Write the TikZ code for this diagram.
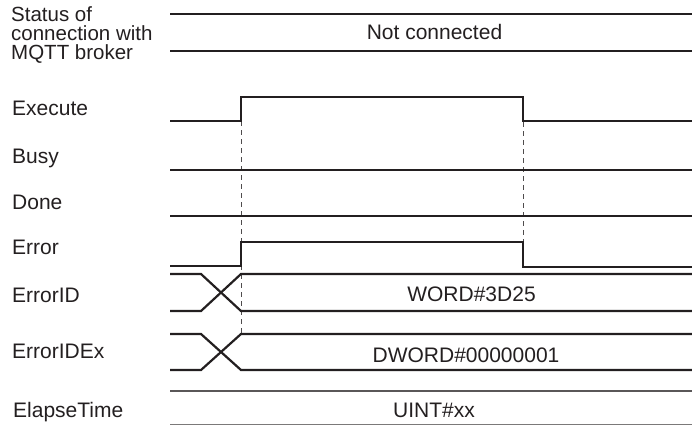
\documentclass[tikz,border=0pt]{standalone}
\usepackage{fontspec}
\setmainfont{Liberation Sans}
\usepackage{xcolor}
\definecolor{ink}{HTML}{231F20}
\tikzstyle{wave} = [line width=2.2pt, draw=ink]
\tikzstyle{guide} = [line width=0.8pt, draw=ink!80, dashed, dash pattern=on 5pt off 4pt]
\tikzstyle{label} = [anchor=base west, inner sep=0pt, text=ink]
\tikzstyle{value} = [anchor=base, inner sep=0pt, text=ink]

\begin{document}
\begin{tikzpicture}[x=1pt, y=-1pt, every node/.style={font=\fontsize{21}{18.5}\selectfont}]
  \useasboundingbox (0,0) rectangle (692,425);

  % Signal names
  \node[anchor=north west, inner sep=0pt, text=ink, align=left, font=\fontsize{20.5}{19.2}\selectfont] (status) at (11,6.5) {Status of\\connection with\\MQTT broker};
  \node[label] (execute) at (12,115.7) {Execute};
  \node[label] (busy) at (12,163) {Busy};
  \node[label] (done) at (12,209) {Done};
  \node[label] (error) at (12,254) {Error};
  \node[label] (errorid) at (12,302) {ErrorID};
  \node[label] (errorex) at (12,358) {ErrorIDEx};
  \node[label] (elapse) at (13,417) {ElapseTime};

  % Guide lines
  \draw[guide] (241,121) -- (241,334);
  \draw[guide] (523,122) -- (523,242);

  % Status of connection
  \draw[wave] (170,14) -- (692,14);
  \draw[wave] (170,51) -- (692,51);
  \node[value] (notconn) at (434.5,40) {Not connected};

  % Execute
  \draw[wave] (170,121) -- (241,121) -- (241,97) -- (523,97) -- (523,121) -- (692,121);

  % Busy and Done
  \draw[wave] (170,170) -- (692,170);
  \draw[wave] (170,216) -- (692,216);

  % Error
  \draw[wave] (170,266) -- (241,266) -- (241,242) -- (523,242) -- (523,267) -- (692,267);

  % ErrorID
  \draw[wave] (170,274) -- (201,274) -- (241,311) -- (692,311);
  \draw[wave] (170,311) -- (201,311) -- (241,274) -- (692,274);
  \node[value] (wordval) at (471.5,301) {WORD\#3D25};

  % ErrorIDEx
  \draw[wave] (170,334) -- (201,334) -- (241,370) -- (692,370);
  \draw[wave] (170,370) -- (201,370) -- (241,334) -- (692,334);
  \node[value] (dwordval) at (466,362) {DWORD\#00000001};

  % ElapseTime
  \draw[wave, draw=ink!75] (170,391) -- (692,391);
  \draw[line width=1pt, draw=ink!60] (170,424) -- (692,424);
  \node[value] (uintval) at (434,417) {UINT\#xx};
\end{tikzpicture}
\end{document}
